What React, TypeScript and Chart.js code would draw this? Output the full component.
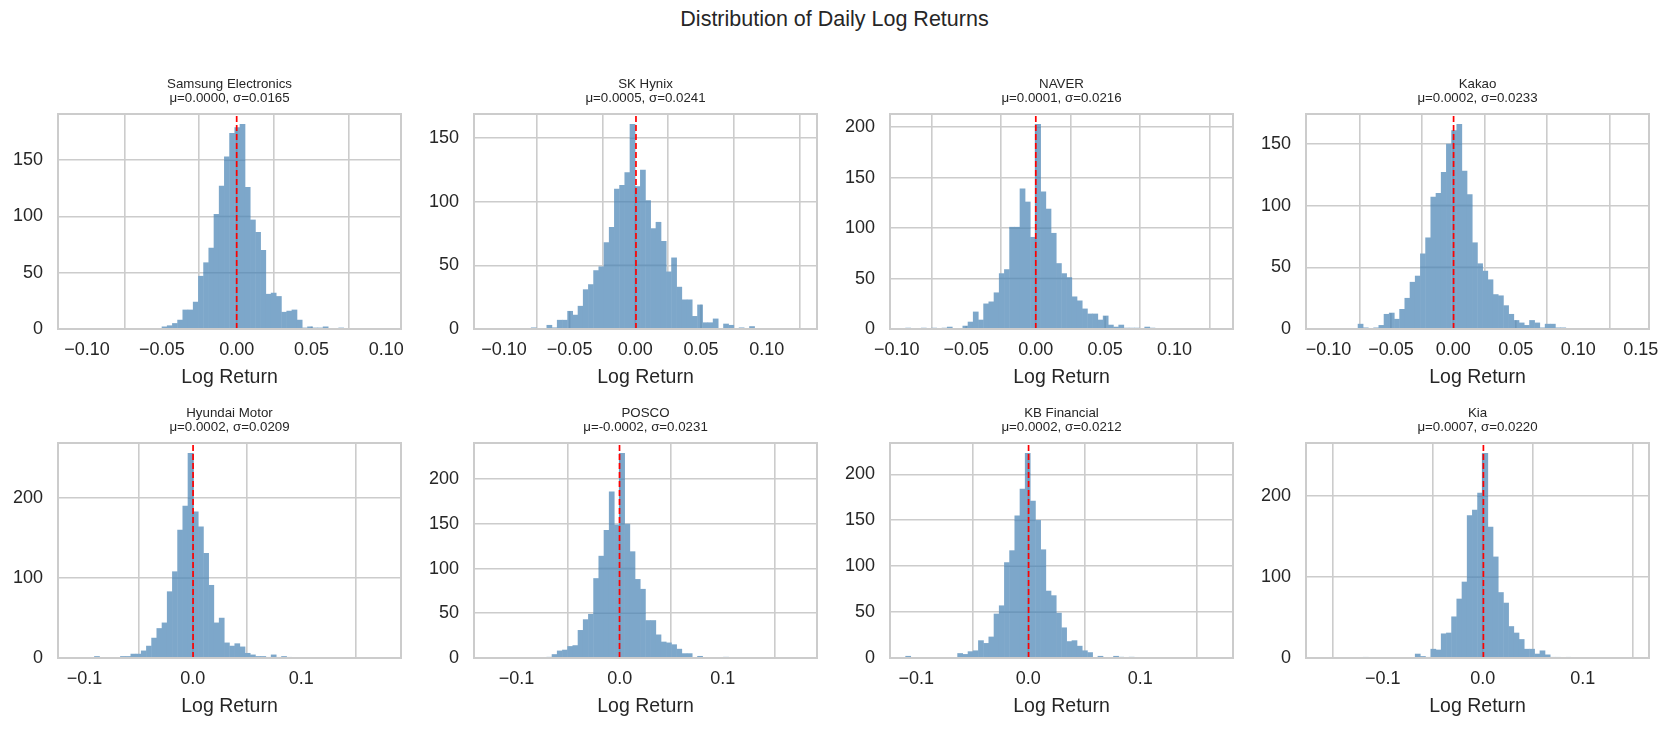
import React, { useEffect, useRef } from "react";
import { Chart, registerables } from "chart.js";

Chart.register(...registerables);

// ---------- data ----------
const stockNames = [
  "Samsung Electronics",
  "SK Hynix",
  "NAVER",
  "Kakao",
  "Hyundai Motor",
  "POSCO",
  "KB Financial",
  "Kia",
];
const meanReturns = [0.0, 0.0005, 0.0001, 0.0002, 0.0002, -0.0002, 0.0002, 0.0007];
const stdReturns = [0.0165, 0.0241, 0.0216, 0.0233, 0.0209, 0.0231, 0.0212, 0.022];
const returnMins = [-0.109, -0.1109, -0.0936, -0.1055, -0.11, -0.1262, -0.1096, -0.1611];
const returnMaxs = [0.0994, 0.1264, 0.1308, 0.1442, 0.1776, 0.1762, 0.1688, 0.1507];

// 60-bin histogram counts (as visible in the picture)
const samsungCounts = [0, 0, 0, 0, 0, 0, 0, 0, 0, 0, 0, 0, 0, 0, 0, 0, 0, 2, 3, 5, 8, 17, 17, 24, 47, 59, 72, 102, 127, 153, 174, 179, 182, 126, 97, 86, 70, 31, 32, 29, 15, 16, 17, 8, 1, 2, 1, 1, 2, 0, 0, 1, 0, 0, 0, 0, 0, 0, 0, 0];
const hynixCounts = [0, 0, 0, 0, 0, 0, 0, 0, 1, 0, 0, 3, 1, 7, 7, 14, 11, 18, 31, 35, 46, 49, 68, 80, 110, 113, 123, 161, 112, 125, 101, 79, 84, 69, 45, 56, 33, 23, 23, 10, 19, 5, 5, 8, 0, 4, 3, 0, 1, 0, 2, 0, 0, 0, 0, 0, 0, 0, 0, 0];
const naverCounts = [1, 0, 0, 1, 0, 1, 0, 1, 2, 0, 0, 3, 7, 17, 9, 25, 27, 36, 55, 59, 101, 101, 139, 126, 91, 203, 136, 119, 95, 65, 55, 51, 32, 28, 20, 15, 15, 9, 13, 4, 2, 4, 1, 1, 1, 0, 2, 1, 0, 0, 0, 0, 0, 0, 0, 0, 0, 0, 0, 0];
const kakaoCounts = [0, 0, 0, 0, 0, 0, 0, 4, 1, 0, 1, 3, 12, 13, 8, 16, 25, 38, 43, 61, 74, 107, 110, 127, 150, 161, 166, 128, 109, 70, 53, 47, 40, 28, 27, 19, 12, 7, 5, 3, 7, 5, 1, 4, 4, 1, 1, 0, 0, 0, 0, 0, 0, 0, 0, 0, 0, 0, 0, 0];
const hyundaiCounts = [0, 0, 0, 0, 2, 0, 0, 0, 0, 2, 2, 5, 5, 9, 15, 25, 37, 44, 83, 108, 160, 190, 256, 183, 164, 131, 91, 44, 50, 19, 15, 18, 14, 6, 4, 2, 2, 1, 4, 1, 2, 1, 0, 0, 0, 0, 0, 0, 0, 0, 0, 0, 0, 0, 0, 0, 0, 0, 0, 0];
const poscoCounts = [0, 0, 0, 0, 0, 0, 0, 0, 0, 0, 0, 1, 4, 8, 9, 13, 14, 31, 43, 49, 89, 114, 143, 186, 149, 229, 150, 119, 88, 77, 42, 42, 26, 18, 17, 15, 10, 5, 5, 0, 2, 0, 0, 0, 0, 1, 0, 0, 0, 0, 0, 0, 0, 0, 0, 0, 0, 0, 0, 0];
const kbCounts = [2, 0, 0, 0, 0, 0, 0, 0, 0, 0, 5, 4, 7, 8, 19, 16, 23, 48, 57, 104, 117, 155, 184, 223, 171, 150, 118, 73, 68, 49, 33, 18, 19, 13, 8, 6, 0, 2, 0, 0, 2, 1, 0, 1, 0, 0, 0, 0, 0, 0, 0, 0, 0, 0, 0, 0, 0, 0, 0, 0];
const kiaCounts = [0, 0, 0, 0, 0, 0, 0, 0, 1, 0, 0, 0, 0, 0, 0, 0, 0, 0, 5, 2, 1, 11, 10, 30, 31, 51, 73, 94, 176, 183, 204, 253, 162, 125, 81, 68, 39, 31, 23, 11, 11, 5, 9, 4, 1, 1, 0, 1, 0, 0, 0, 0, 0, 0, 0, 0, 0, 0, 0, 0];
const allCounts = [samsungCounts, hynixCounts, naverCounts, kakaoCounts, hyundaiCounts, poscoCounts, kbCounts, kiaCounts];

// tick values and labels
const rowOneXTicks = [-0.1, -0.05, 0, 0.05, 0.1];
const rowOneXLabels = ["\u22120.10", "\u22120.05", "0.00", "0.05", "0.10"];
const kakaoXTicks = [-0.1, -0.05, 0, 0.05, 0.1, 0.15];
const kakaoXLabels = ["\u22120.10", "\u22120.05", "0.00", "0.05", "0.10", "0.15"];
const rowTwoXTicks = [-0.1, 0, 0.1];
const rowTwoXLabels = ["\u22120.1", "0.0", "0.1"];
const xTickSets = [rowOneXTicks, rowOneXTicks, rowOneXTicks, kakaoXTicks, rowTwoXTicks, rowTwoXTicks, rowTwoXTicks, rowTwoXTicks];
const xLabelSets = [rowOneXLabels, rowOneXLabels, rowOneXLabels, kakaoXLabels, rowTwoXLabels, rowTwoXLabels, rowTwoXLabels, rowTwoXLabels];
const yTickSets = [
  [0, 50, 100, 150],
  [0, 50, 100, 150],
  [0, 50, 100, 150, 200],
  [0, 50, 100, 150],
  [0, 100, 200],
  [0, 50, 100, 150, 200],
  [0, 50, 100, 150, 200],
  [0, 100, 200],
];

const BIN_COUNT = 60;
const MAIN_TITLE = "Distribution of Daily Log Returns";
const X_TITLE = "Log Return";

// ---------- styling / layout ----------
const FONT = "'Liberation Sans', Arial, Helvetica, sans-serif";
const TEXT = "#262626";
const GRID = "#cccccc";
const BAR = "rgb(125,167,202)"; // steelblue @ 0.7 alpha on white
const GRID_ON_BAR = "rgb(110,152,187)"; // grid seen through the translucent bars
const GRID_W = 1.6;

const COL_LEFT = [58, 474, 890, 1306];
const ROW_TOP = [114, 443];
const AREA_W = 343;
const AREA_H = 215;
const Y_AXIS_W = 56;
const X_AXIS_H = 61;
const TITLE_H = 40;
const PAD_R = 24;

const spinePlugin = {
  id: "spines",
  afterDatasetsDraw(chart: any) {
    const { ctx, chartArea: a } = chart;
    ctx.save();
    ctx.strokeStyle = GRID;
    ctx.lineWidth = 2;
    ctx.strokeRect(a.left, a.top, a.right - a.left, a.bottom - a.top);
    ctx.restore();
  },
};

// gridlines showing through the bars (drawn right after the bars, before the mean line)
const gridThroughBars = {
  id: "gridThroughBars",
  afterDatasetDraw(chart: any, args: any) {
    if (args.index !== 1) return;
    const meta = args.meta;
    const els = meta.data as any[];
    const vals = chart.data.datasets[1].data as any[];
    const xs = chart.scales.x;
    const ys = chart.scales.y;
    const a = chart.chartArea;
    const ctx = chart.ctx;
    ctx.save();
    ctx.beginPath();
    ctx.rect(a.left, a.top, a.right - a.left, a.bottom - a.top);
    ctx.clip();
    ctx.strokeStyle = GRID_ON_BAR;
    ctx.lineWidth = GRID_W;
    ctx.lineCap = "butt";
    for (const t of ys.ticks) {
      if (t.value <= 0) continue;
      const py = ys.getPixelForValue(t.value);
      let runL: number | null = null;
      let runR = 0;
      const flush = () => {
        if (runL !== null) {
          ctx.beginPath();
          ctx.moveTo(runL, py);
          ctx.lineTo(runR, py);
          ctx.stroke();
        }
        runL = null;
      };
      for (let i = 0; i < els.length; i++) {
        const el = els[i];
        if (vals[i].y > t.value) {
          const l = el.x - el.width / 2;
          const r = el.x + el.width / 2;
          if (runL === null) runL = l;
          runR = r;
        } else {
          flush();
        }
      }
      flush();
    }
    for (const t of xs.ticks) {
      const px = xs.getPixelForValue(t.value);
      for (let i = 0; i < els.length; i++) {
        const el = els[i];
        const l = el.x - el.width / 2;
        const r = el.x + el.width / 2;
        if (px >= l && px < r && vals[i].y > 0) {
          ctx.beginPath();
          ctx.moveTo(px, ys.getPixelForValue(0));
          ctx.lineTo(px, el.y);
          ctx.stroke();
        }
      }
    }
    ctx.restore();
  },
};

function Panel({ idx }: { idx: number }) {
  const ref = useRef<HTMLCanvasElement | null>(null);
  const col = idx % 4;
  const row = Math.floor(idx / 4);
  const width = Y_AXIS_W + AREA_W + PAD_R;
  const height = TITLE_H + AREA_H + X_AXIS_H;

  useEffect(() => {
    if (!ref.current) return;
    const counts = allCounts[idx];
    const lo = returnMins[idx];
    const hi = returnMaxs[idx];
    const binW = (hi - lo) / BIN_COUNT;
    const span = hi - lo;
    const xMin = lo - 0.05 * span;
    const xMax = hi + 0.05 * span;
    const yMax = Math.max(...counts) * 1.05;
    const bars = counts.map((c, i) => ({ x: lo + (i + 0.5) * binW, y: c }));
    const mean = meanReturns[idx];
    const xt = xTickSets[idx];
    const xl = xLabelSets[idx];
    const yt = yTickSets[idx];

    const chart = new Chart(ref.current, {
      type: "bar",
      data: {
        datasets: [
          {
            type: "line",
            data: [
              { x: mean, y: 0 },
              { x: mean, y: yMax },
            ],
            borderColor: "#ff0000",
            borderWidth: 1.7,
            borderDash: [6, 3],
            pointRadius: 0,
            fill: false,
            order: 0,
          },
          {
            type: "bar",
            data: bars,
            backgroundColor: BAR,
            borderWidth: 0,
            barPercentage: 1,
            categoryPercentage: 1,
            inflateAmount: 0.25,
            order: 1,
          },
        ],
      } as any,
      options: {
        animation: false,
        responsive: false,
        events: [],
        layout: { padding: { left: 0, right: PAD_R, top: 0, bottom: 0 } },
        plugins: {
          legend: { display: false },
          tooltip: { enabled: false },
          title: {
            display: true,
            fullSize: false,
            text: [stockNames[idx], `\u03bc=${mean.toFixed(4)}, \u03c3=${stdReturns[idx].toFixed(4)}`],
            color: TEXT,
            font: { family: FONT, size: 13.3, weight: "normal", lineHeight: 1.0226 },
            padding: { top: 3.7, bottom: 9.1 },
          },
        },
        scales: {
          x: {
            type: "linear",
            min: xMin,
            max: xMax,
            bounds: "data",
            offset: false,
            grid: { color: GRID, lineWidth: GRID_W, drawTicks: false },
            border: { display: false },
            ticks: {
              color: TEXT,
              font: { family: FONT, size: 18 },
              padding: 10,
              autoSkip: false,
              maxRotation: 0,
              callback: (_v: any, i: number) => xl[i],
            },
            afterBuildTicks: (s: any) => {
              s.ticks = xt.map((v) => ({ value: v }));
            },
            afterFit: (s: any) => {
              s.height = X_AXIS_H;
            },
            title: {
              display: true,
              text: X_TITLE,
              color: TEXT,
              font: { family: FONT, size: 19.5 },
              padding: { top: 0, bottom: 1 },
            },
          },
          y: {
            type: "linear",
            min: 0,
            max: yMax,
            bounds: "data",
            grid: { color: GRID, lineWidth: GRID_W, drawTicks: false },
            border: { display: false },
            ticks: {
              color: TEXT,
              font: { family: FONT, size: 18 },
              padding: 15,
              callback: (_v: any, i: number) => String(yt[i]),
            },
            afterBuildTicks: (s: any) => {
              s.ticks = yt.map((v) => ({ value: v }));
            },
            afterFit: (s: any) => {
              s.width = Y_AXIS_W;
            },
          },
        },
      } as any,
      plugins: [gridThroughBars, spinePlugin],
    });
    return () => chart.destroy();
  }, [idx]);

  return (
    <canvas
      ref={ref}
      width={width}
      height={height}
      style={{
        position: "absolute",
        left: COL_LEFT[col] - Y_AXIS_W,
        top: ROW_TOP[row] - TITLE_H,
        width,
        height,
      }}
    />
  );
}

export default function App() {
  return (
    <div
      style={{
        position: "absolute",
        left: 0,
        top: 0,
        width: 1669,
        height: 729,
        overflow: "hidden",
        background: "#ffffff",
      }}
    >
      <div
        style={{
          position: "absolute",
          left: 0,
          top: 6,
          width: 1669,
          textAlign: "center",
          fontFamily: FONT,
          fontSize: "21.5px",
          lineHeight: "26px",
          color: TEXT,
        }}
      >
        {MAIN_TITLE}
      </div>
      {stockNames.map((_, i) => (
        <Panel key={i} idx={i} />
      ))}
    </div>
  );
}
